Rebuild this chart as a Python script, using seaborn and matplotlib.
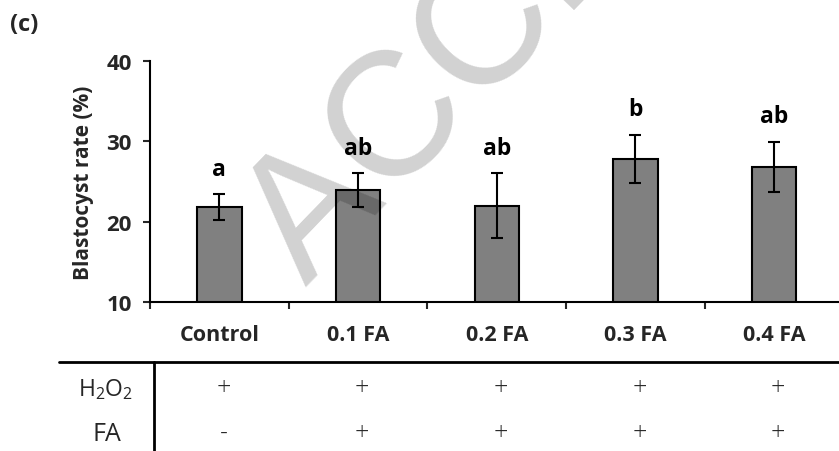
import matplotlib
matplotlib.use("Agg")
import matplotlib.pyplot as plt
import seaborn as sns
import pandas as pd
from matplotlib.lines import Line2D
from matplotlib.transforms import blended_transform_factory

# ---- data ----
groups = ["Control", "0.1 FA", "0.2 FA", "0.3 FA", "0.4 FA"]
rate = [21.8, 23.9, 22.0, 27.8, 26.8]
err = [1.6, 2.1, 4.0, 3.0, 3.15]
letters = ["a", "ab", "ab", "b", "ab"]
h2o2_row = ["+", "+", "+", "+", "+"]
fa_row = ["-", "+", "+", "+", "+"]
yticks = [10, 20, 30, 40]

sns.set_style("ticks")
plt.rcParams["font.family"] = ["Open Sans", "DejaVu Sans"]
plt.rcParams["mathtext.fontset"] = "custom"
plt.rcParams["mathtext.rm"] = "Open Sans"

df = pd.DataFrame({"group": groups, "rate": rate})

W, H = 839, 452
fig = plt.figure(figsize=(W / 100, H / 100), dpi=100)
ax = fig.add_axes([150 / W, 1 - 303 / H, 1 - 150 / W, (303 - 62) / H])

sns.barplot(data=df, x="group", y="rate", ax=ax, color="#808080",
            saturation=1, width=0.32, edgecolor="black", linewidth=1.5,
            errorbar=None, zorder=2)
ax.errorbar(range(len(groups)), rate, yerr=err, fmt="none", ecolor="black",
            elinewidth=1.5, capsize=4, capthick=1.5, zorder=3)

for i, (v, e, l) in enumerate(zip(rate, err, letters)):
    ax.text(i, v + e + 1.7, l, ha="center", va="bottom", fontsize=16.5,
            fontweight="bold", color="black")

ax.set_ylim(10, 40)
ax.set_xlim(-0.5, (W - 150) / 138.7 - 0.5)
ax.set_yticks(yticks)
ax.set_yticklabels([str(t) for t in yticks], fontsize=16, fontweight="bold")
ax.set_xticks(range(len(groups)))
ax.set_xticklabels(groups, fontsize=15.5, fontweight="bold")
ax.set_xticks([i - 0.5 for i in range(len(groups))], minor=True)
ax.tick_params(axis="x", which="major", length=0, pad=16)
ax.tick_params(axis="x", which="minor", length=5, width=1.5, direction="out")
ax.tick_params(axis="y", length=5, width=1.5, direction="out", pad=8)
ax.set_xlabel("")
ax.set_ylabel("Blastocyst rate (%)", fontsize=15, fontweight="bold", labelpad=9)
for s in ["top", "right"]:
    ax.spines[s].set_visible(False)
for s in ["left", "bottom"]:
    ax.spines[s].set_linewidth(1.5)
    ax.spines[s].set_color("black")

# ---- table below ----
fig.add_artist(Line2D([59 / W, 1.0], [1 - 363 / H, 1 - 363 / H], color="black", lw=2))
fig.add_artist(Line2D([154 / W, 154 / W], [1 - 363 / H, 0], color="black", lw=2))
tr = blended_transform_factory(ax.transData, fig.transFigure)
fig.text(133 / W, 1 - 390 / H, "H$_2$O$_2$", ha="right", va="center", fontsize=16.5)
fig.text(107 / W, 1 - 435 / H, "FA", ha="center", va="center", fontsize=18)
for i, (a, b) in enumerate(zip(h2o2_row, fa_row)):
    ax.text(i + 0.03, 1 - 389 / H, a, transform=tr, ha="center", va="center",
            fontsize=18, fontweight="light", clip_on=False)
    ax.text(i + 0.03, 1 - 434 / H, b, transform=tr, ha="center", va="center",
            fontsize=18, fontweight="light", clip_on=False)

fig.text(10 / W, 1 - 25 / H, "(c)", ha="left", va="center", fontsize=17,
         fontweight="bold")

# watermark
fig.text(306 / W, 1 - 288 / H, "ACCEPTED", rotation=46,
         rotation_mode="anchor", ha="left", va="baseline", fontsize=127,
         family="Liberation Sans", color="black", alpha=0.18, zorder=10)

fig.savefig("out.png", dpi=100)
